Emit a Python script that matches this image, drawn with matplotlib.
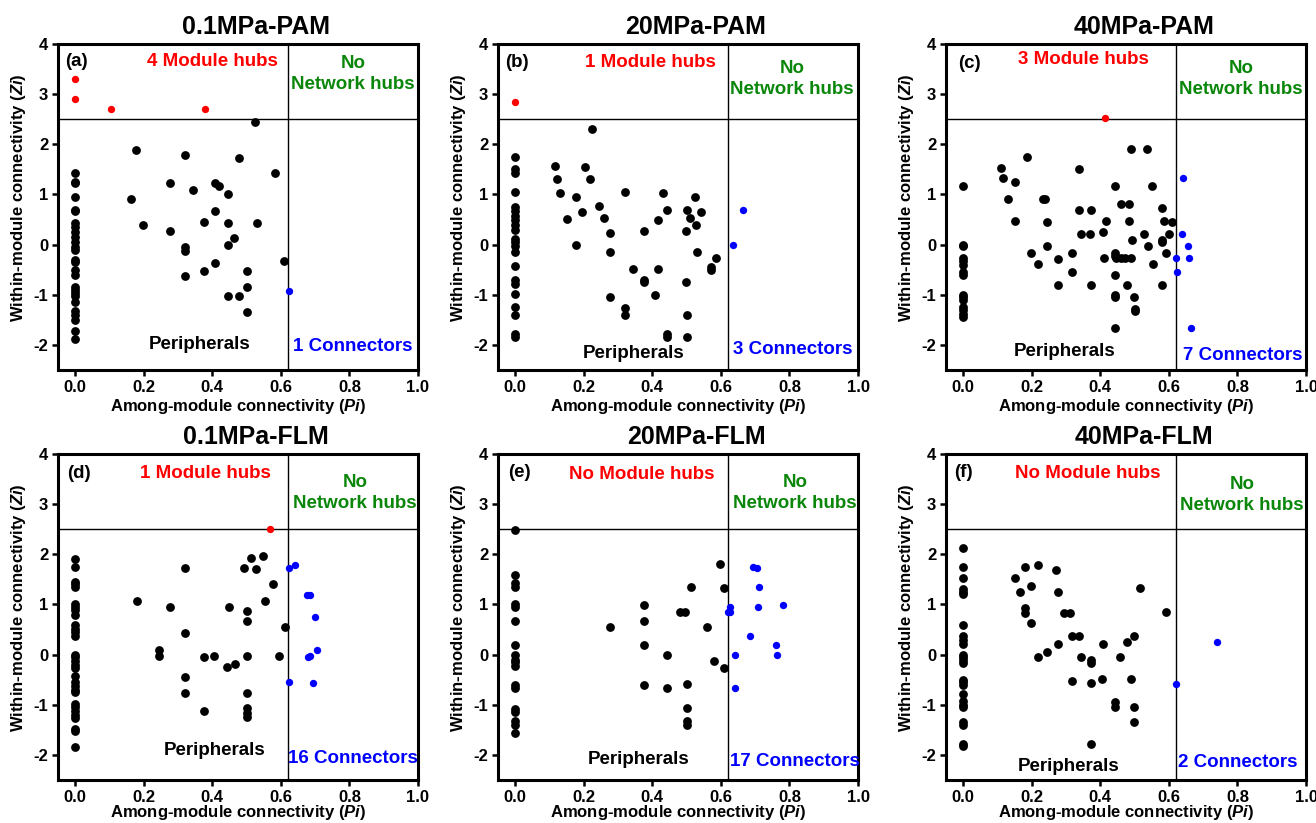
import numpy as np
import matplotlib
matplotlib.use("Agg")
import matplotlib.pyplot as plt

plt.rcParams['font.family'] = ['Liberation Sans', 'DejaVu Sans']
plt.rcParams['font.weight'] = 'bold'
plt.rcParams['axes.unicode_minus'] = False
plt.rcParams['mathtext.fontset'] = 'custom'
plt.rcParams['mathtext.it'] = 'Liberation Sans:bold:italic'
plt.rcParams['mathtext.rm'] = 'Liberation Sans:bold'

titles = ['0.1MPa-PAM', '20MPa-PAM', '40MPa-PAM', '0.1MPa-FLM', '20MPa-FLM', '40MPa-FLM']
tags = ['(a)', '(b)', '(c)', '(d)', '(e)', '(f)']
hub_text = ['4 Module hubs', '1 Module hubs', '3 Module hubs', '1 Module hubs', 'No Module hubs', 'No Module hubs']
con_text = ['1 Connectors', '3 Connectors', '7 Connectors', '16 Connectors', '17 Connectors', '2 Connectors']

# (a) 0.1MPa-PAM
a_pi = [0, 0, 0, 0, 0, 0, 0, 0, 0, 0, 0, 0, 0, 0, 0, 0, 0, 0, 0, 0, 0, 0, 0, 0, 0, 0, 0,
        0.178, 0.164, 0.197, 0.277, 0.277, 0.32, 0.32, 0.32, 0.32, 0.345, 0.375, 0.375,
        0.407, 0.419, 0.407, 0.407, 0.445, 0.445, 0.445, 0.445, 0.462, 0.479, 0.479,
        0.5, 0.5, 0.5, 0.525, 0.531, 0.584, 0.61]
a_zi = [1.42, 1.22, 0.94, 0.7, 0.68, 0.44, 0.36, 0.25, 0.15, 0.05, -0.05, -0.1, -0.3, -0.35,
        -0.5, -0.6, -0.85, -0.9, -0.97, -1.02, -1.15, -1.32, -1.4, -1.5, -1.73, -1.88, 1.25,
        1.89, 0.91, 0.39, 1.23, 0.28, 1.79, -0.05, -0.13, -0.63, 1.08, 0.45, -0.53,
        1.22, 1.16, 0.68, -0.37, 1.0, 0.44, 0.0, -1.02, 0.13, 1.73, -1.02,
        -0.53, -0.85, -1.34, 2.44, 0.44, 1.42, -0.33]
a_hub_pi = [0, 0, 0.105, 0.38]
a_hub_zi = [3.3, 2.9, 2.7, 2.7]
a_con_pi = [0.625]
a_con_zi = [-0.93]

# (b) 20MPa-PAM
b_pi = [0, 0, 0, 0, 0, 0, 0, 0, 0, 0, 0, 0, 0, 0, 0, 0, 0, 0, 0, 0, 0, 0,
        0.116, 0.123, 0.131, 0.15, 0.178, 0.178, 0.195, 0.205, 0.217, 0.225, 0.244, 0.259,
        0.276, 0.276, 0.276, 0.32, 0.32, 0.32, 0.343, 0.375, 0.375, 0.377, 0.407, 0.418,
        0.418, 0.431, 0.444, 0.444, 0.444, 0.5, 0.497, 0.497, 0.5, 0.5, 0.51, 0.524,
        0.528, 0.53, 0.543, 0.57, 0.57, 0.585]
b_zi = [1.75, 1.5, 1.42, 1.05, 0.75, 0.68, 0.58, 0.5, 0.4, 0.3, 0.12, 0.05, -0.02, -0.15,
        -0.43, -0.7, -0.78, -0.98, -1.25, -1.4, -1.78, -1.85,
        1.57, 1.30, 1.02, 0.51, 0.94, -0.01, 0.66, 1.54, 1.31, 2.30, 0.76, 0.54,
        0.24, -0.15, -1.05, 1.05, -1.27, -1.41, -0.49, -0.7, -0.75, 0.28, -1.0, 0.5,
        -0.48, 1.02, 0.7, -1.78, -1.84, 0.7, 0.28, -0.75, -1.41, -1.84, 0.54, 0.94,
        0.39, -0.15, 0.66, -0.45, -0.5, -0.27]
b_hub_pi = [0]
b_hub_zi = [2.85]
b_con_pi = [0.634, 0.665]
b_con_zi = [-0.01, 0.7]

# (c) 40MPa-PAM
c_pi = [0, 0, 0, 0, 0, 0, 0, 0, 0, 0, 0, 0, 0, 0, 0,
        0.111, 0.117, 0.132, 0.152, 0.152, 0.187, 0.197, 0.218, 0.233, 0.24, 0.245, 0.245,
        0.277, 0.277, 0.318, 0.318, 0.337, 0.337, 0.345, 0.369, 0.373, 0.373, 0.407, 0.41,
        0.416, 0.443, 0.443, 0.443, 0.447, 0.443, 0.443, 0.443, 0.443, 0.459, 0.46, 0.472,
        0.479, 0.484, 0.484, 0.489, 0.491, 0.492, 0.498, 0.5, 0.5, 0.527, 0.535, 0.539,
        0.55, 0.553, 0.579, 0.579, 0.579, 0.579, 0.585, 0.592, 0.599, 0.609]
c_zi = [1.17, 0.0, -0.02, -0.27, -0.33, -0.4, -0.55, -0.6, -1.0, -1.05, -1.1, -1.25, -1.3,
        -1.38, -1.45,
        1.53, 1.32, 0.9, 1.25, 0.47, 1.75, -0.17, -0.38, 0.9, 0.9, 0.45, -0.03,
        -0.28, -0.81, -0.17, -0.55, 1.5, 0.69, 0.22, 0.22, 0.69, -0.8, 0.25, -0.27,
        0.47, 1.17, -0.16, -0.23, -0.27, -0.6, -1.0, -1.05, -1.67, 0.81, -0.27, -0.27,
        -0.8, 0.81, 0.47, -0.27, 1.9, 0.09, -1.05, -1.28, -1.33, 0.22, 1.9, -0.03,
        1.17, -0.38, 0.73, 0.1, 0.05, -0.81, 0.47, -0.17, 0.22, 0.46]
c_hub_pi = [0.415]
c_hub_zi = [2.52]
c_con_pi = [0.641, 0.637, 0.655, 0.622, 0.658, 0.623, 0.664]
c_con_zi = [1.32, 0.22, -0.03, -0.27, -0.27, -0.54, -1.67]

# (d) 0.1MPa-FLM
d_pi = [0, 0, 0, 0, 0, 0, 0, 0, 0, 0, 0, 0, 0, 0, 0, 0, 0, 0, 0, 0, 0, 0, 0, 0, 0, 0, 0,
        0, 0, 0, 0,
        0.18, 0.245, 0.245, 0.277, 0.32, 0.32, 0.32, 0.32, 0.375, 0.375, 0.406, 0.444,
        0.449, 0.467, 0.493, 0.5, 0.5, 0.5, 0.5, 0.5, 0.5, 0.5, 0.513, 0.527, 0.548,
        0.554, 0.576, 0.595, 0.612]
d_zi = [1.9, 1.75, 1.45, 1.4, 1.35, 1.0, 0.95, 0.88, 0.78, 0.6, 0.52, 0.45, 0.38, 0.0,
        -0.05, -0.12, -0.2, -0.27, -0.42, -0.55, -0.62, -0.7, -0.75, -0.98, -1.05, -1.12,
        -1.2, -1.27, -1.48, -1.52, -1.85,
        1.06, 0.1, -0.03, 0.94, 1.73, 0.44, -0.45, -0.76, -0.05, -1.12, -0.03, -0.25,
        0.94, -0.18, 1.73, 0.87, 0.68, -0.03, -0.76, -1.07, -1.17, -1.24, 1.93, 1.7, 1.97,
        1.06, 1.41, -0.03, 0.56]
d_hub_pi = [0.567]
d_hub_zi = [2.5]
d_con_pi = [0.624, 0.64, 0.677, 0.685, 0.70, 0.704, 0.685, 0.68, 0.625, 0.695]
d_con_zi = [1.72, 1.79, 1.18, 1.18, 0.75, 0.10, -0.03, -0.05, -0.55, -0.57]

# (e) 20MPa-FLM
e_pi = [0, 0, 0, 0, 0, 0, 0, 0, 0, 0, 0, 0, 0, 0, 0, 0, 0, 0, 0,
        0.277, 0.375, 0.375, 0.375, 0.375, 0.444, 0.444, 0.48, 0.495, 0.5, 0.5, 0.5, 0.5,
        0.512, 0.561, 0.58, 0.598, 0.61, 0.61]
e_zi = [2.48, 1.58, 1.42, 1.35, 1.0, 0.95, 0.68, 0.19, 0.0, -0.1, -0.15, -0.22, -0.6,
        -0.67, -1.08, -1.15, -1.33, -1.4, -1.57,
        0.55, 0.98, 0.68, 0.19, -0.6, 0.0, -0.66, 0.84, 0.84, -0.58, -1.07, -1.33, -1.4,
        1.35, 0.55, -0.12, 1.8, 1.32, -0.26]
e_hub_pi = []
e_hub_zi = []
e_con_pi = [0.695, 0.705, 0.712, 0.627, 0.622, 0.627, 0.707, 0.781, 0.686, 0.76, 0.764,
            0.64, 0.64]
e_con_zi = [1.75, 1.73, 1.35, 0.95, 0.85, 0.85, 0.95, 0.98, 0.37, 0.19, 0.0, 0.0, -0.66]

# (f) 40MPa-FLM
f_pi = [0, 0, 0, 0, 0, 0, 0, 0, 0, 0, 0, 0, 0, 0, 0, 0, 0, 0, 0, 0, 0, 0, 0, 0, 0,
        0.152, 0.165, 0.18, 0.18, 0.18, 0.197, 0.197, 0.218, 0.218, 0.245, 0.271, 0.277,
        0.277, 0.295, 0.313, 0.318, 0.318, 0.339, 0.345, 0.373, 0.373, 0.373, 0.373,
        0.407, 0.405, 0.442, 0.442, 0.458, 0.479, 0.491, 0.497, 0.497, 0.497, 0.517, 0.593]
f_zi = [2.13, 1.75, 1.52, 1.3, 1.25, 1.2, 0.6, 0.37, 0.3, 0.22, 0.0, -0.05, -0.1, -0.17,
        -0.5, -0.55, -0.6, -0.78, -0.92, -1.0, -1.05, -1.35, -1.4, -1.78, -1.82,
        1.52, 1.24, 1.75, 0.93, 0.82, 1.37, 0.64, 1.79, -0.05, 0.06, 1.68, 1.25,
        0.21, 0.82, 0.82, 0.38, -0.52, 0.38, -0.05, -0.1, -0.17, -0.57, -1.79,
        0.21, -0.48, -0.95, -1.05, -0.05, 0.26, -0.48, 0.37, -1.05, -1.34, 1.32, 0.84]
f_hub_pi = []
f_hub_zi = []
f_con_pi = [0.622, 0.741]
f_con_zi = [-0.58, 0.26]

black = [(a_pi, a_zi), (b_pi, b_zi), (c_pi, c_zi), (d_pi, d_zi), (e_pi, e_zi), (f_pi, f_zi)]
hubs = [(a_hub_pi, a_hub_zi), (b_hub_pi, b_hub_zi), (c_hub_pi, c_hub_zi),
        (d_hub_pi, d_hub_zi), (e_hub_pi, e_hub_zi), (f_hub_pi, f_hub_zi)]
cons = [(a_con_pi, a_con_zi), (b_con_pi, b_con_zi), (c_con_pi, c_con_zi),
        (d_con_pi, d_con_zi), (e_con_pi, e_con_zi), (f_con_pi, f_con_zi)]

# text positions (data coords)
tag_xy = [(-0.03, 3.65), (-0.03, 3.63), (-0.015, 3.62), (-0.022, 3.61), (-0.02, 3.63), (-0.027, 3.64)]
hub_xy = [(0.40, 3.66), (0.395, 3.63), (0.352, 3.69), (0.38, 3.62), (0.368, 3.6), (0.362, 3.61)]
no_xy = [(0.81, 3.41), (0.807, 3.31), (0.81, 3.31), (0.817, 3.23), (0.817, 3.23), (0.814, 3.18)]
per_xy = [(0.363, -2.0), (0.346, -2.17), (0.297, -2.13), (0.407, -1.91), (0.36, -2.09), (0.307, -2.24)]
con_xy = [(0.81, -2.04), (0.81, -2.09), (0.815, -2.22), (0.81, -2.08), (0.815, -2.14), (0.8, -2.16)]

fig = plt.figure(figsize=(13.16, 8.23), dpi=100)
lefts = [58, 498, 946]
tops = [44, 454]
W, H = 360, 326

for k in range(6):
    r, c = k // 3, k % 3
    ax = fig.add_axes([lefts[c] / 1316, 1 - (tops[r] + H) / 823, W / 1316, H / 823])
    bx, by = black[k]
    ax.scatter(bx, by, s=40, c='black', zorder=3, linewidths=0)
    hx, hy = hubs[k]
    if len(hx):
        ax.scatter(hx, hy, s=28, c='#ff0000', zorder=3, linewidths=0)
    cx, cy = cons[k]
    ax.scatter(cx, cy, s=28, c='#0000ff', zorder=3, linewidths=0)
    ax.axhline(2.5, color='black', lw=1)
    ax.axvline(0.62, color='black', lw=1)
    ax.set_xlim(-0.05, 1.0)
    ax.set_ylim(-2.5, 4)
    ax.set_xticks([0, 0.2, 0.4, 0.6, 0.8, 1.0])
    ax.set_xticklabels(['0.0', '0.2', '0.4', '0.6', '0.8', '1.0'])
    ax.set_yticks([-2, -1, 0, 1, 2, 3, 4])
    ax.tick_params(direction='out', length=4, width=1.8, labelsize=12, pad=3)
    for sp in ax.spines.values():
        sp.set_linewidth(2.2)
    ax.text(0.55, 1.052, titles[k], transform=ax.transAxes, ha='center', va='center',
            fontsize=18, fontweight='bold')
    ax.text(*tag_xy[k], tags[k], ha='left', va='center', fontsize=13.5, fontweight='bold')
    ax.text(*hub_xy[k], hub_text[k], ha='center', va='center', fontsize=13.5,
            fontweight='bold', color='#ff0000')
    ax.text(*no_xy[k], 'No\nNetwork hubs', ha='center', va='center', fontsize=13.5,
            fontweight='bold', color='#0a870a', linespacing=1.3)
    ax.text(*per_xy[k], 'Peripherals', ha='center', va='center', fontsize=13.5, fontweight='bold')
    ax.text(*con_xy[k], con_text[k], ha='center', va='center', fontsize=13.5,
            fontweight='bold', color='#0000ff')
    ax.set_xlabel('Among-module connectivity ($Pi$)', fontsize=12, fontweight='bold')
    ax.set_ylabel('Within-module connectivity ($Zi$)', fontsize=12, fontweight='bold')
    ax.xaxis.set_label_coords(0.5, -0.082 if r == 0 else -0.072)
    ax.yaxis.set_label_coords(-0.082, 0.53)

fig.savefig('out.png', dpi=100)
